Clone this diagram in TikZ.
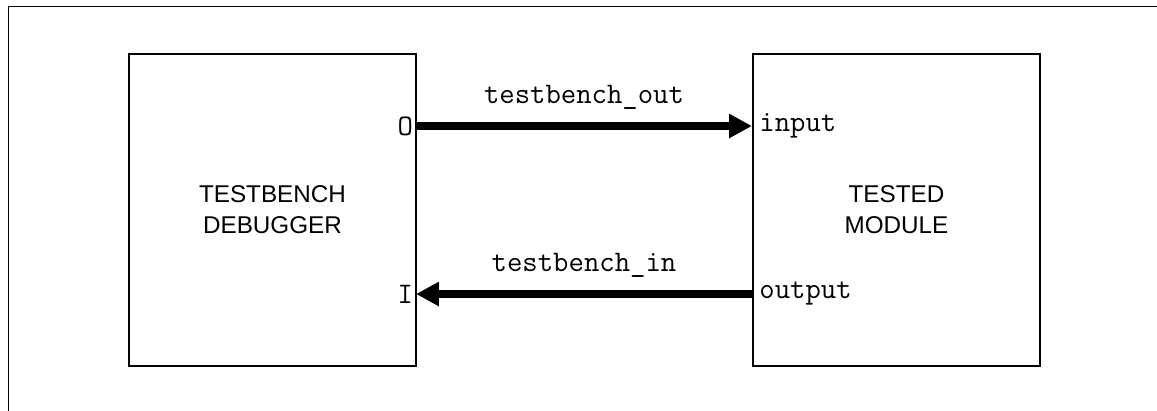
\documentclass[tikz,border=0pt]{standalone}
\usepackage{fontspec}
\setmainfont{Liberation Sans}
\usetikzlibrary{arrows.meta}
\usetikzlibrary{positioning}

\begin{document}
\begin{tikzpicture}[x=0.02cm,y=-0.02cm]
      \useasboundingbox (0,0) rectangle (1157,410);
      \draw[line width=1.1pt] (8.5,6.5) rectangle (1200,450);

      \begin{scope}[shape=rectangle,minimum width=5.74cm,minimum height=6.24cm,align=center]
          \tikzstyle{every node}=[draw,line width=1.1pt,font=\fontsize{13.8}{17.6}\selectfont]
          \node (debugger) at (272.5,210) {TESTBENCH\\DEBUGGER};
          \node (module)   at (896.5,210) {TESTED\\MODULE};
      \end{scope}

      \begin{scope}[inner sep=1.5pt,font=\ttfamily\fontsize{17}{19}\selectfont]
          \node[left]  (pout) at (416,126) {O};
          \node[left]  (pin)  at (416,294) {I};
          \node[right,inner sep=4pt] (minput)  at (752,126) {input};
          \node[right,inner sep=4pt] (moutput) at (752,294) {output};
      \end{scope}

      \draw[-{Triangle[length=13pt,width=13pt]},line width=4.5pt] (pout.east) -- (minput.west)
          node[above=4pt, midway, font=\ttfamily\fontsize{17}{19}\selectfont] {testbench\_out};
      \draw[-{Triangle[length=13pt,width=13pt]},line width=4.5pt] (moutput.west) -- (pin.east)
          node[above=4pt, midway, font=\ttfamily\fontsize{17}{19}\selectfont] {testbench\_in};
\end{tikzpicture}
\end{document}
